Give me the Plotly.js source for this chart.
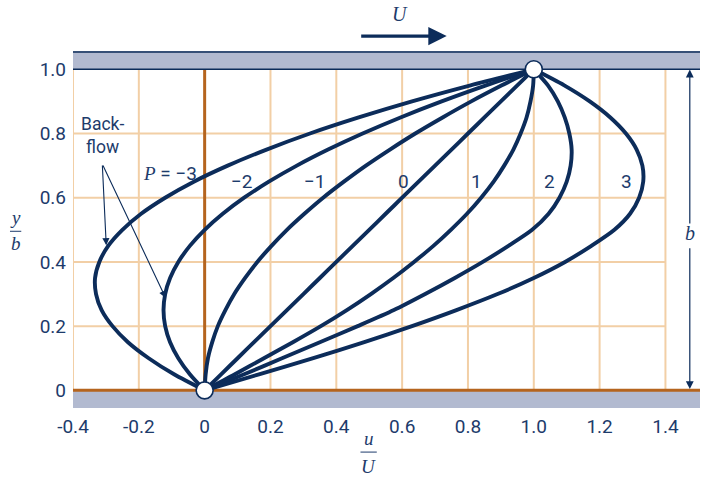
<!DOCTYPE html>
<html>
<head>
<meta charset="utf-8">
<script src="https://cdn.plot.ly/plotly-3.0.1.min.js"></script>
<style>html,body{margin:0;padding:0;background:#fff;}#chart{width:719px;height:490px;}</style>
</head>
<body>
<div id="chart"></div>
<script>
// ---- data ----
var yGrid = [0,0.05,0.1,0.15,0.2,0.25,0.3,0.35,0.4,0.45,0.5,0.55,0.6,0.65,0.7,0.75,0.8,0.85,0.9,0.95,1];
var uPm3 = [0,-0.093,-0.17,-0.233,-0.28,-0.313,-0.33,-0.333,-0.32,-0.293,-0.25,-0.193,-0.12,-0.033,0.07,0.188,0.32,0.468,0.63,0.808,1];
var uPm2 = [0,-0.045,-0.08,-0.105,-0.12,-0.125,-0.12,-0.105,-0.08,-0.045,0,0.055,0.12,0.195,0.28,0.375,0.48,0.595,0.72,0.855,1];
var uPm1 = [0,0.003,0.01,0.023,0.04,0.063,0.09,0.123,0.16,0.203,0.25,0.303,0.36,0.423,0.49,0.563,0.64,0.723,0.81,0.903,1];
var uP0  = [0,0.05,0.1,0.15,0.2,0.25,0.3,0.35,0.4,0.45,0.5,0.55,0.6,0.65,0.7,0.75,0.8,0.85,0.9,0.95,1];
var uP1  = [0,0.092,0.18,0.268,0.353,0.432,0.505,0.573,0.636,0.695,0.748,0.797,0.84,0.878,0.91,0.938,0.96,0.978,0.99,0.998,1];
var uP2  = [0,0.12,0.235,0.35,0.465,0.575,0.67,0.76,0.845,0.923,0.995,1.045,1.078,1.10,1.112,1.115,1.108,1.094,1.073,1.043,1];
var uP3  = [0,0.165,0.33,0.485,0.63,0.765,0.89,1.0,1.095,1.175,1.245,1.2925,1.32,1.3325,1.33,1.3125,1.28,1.2325,1.17,1.0925,1];
var pLabels = ["<span style=\"font-family:'Liberation Serif';font-style:italic\">P</span> = \u22123", "\u22122", "\u22121", "0", "1", "2", "3"];
var pLabelX = [-0.106, 0.112, 0.334, 0.603, 0.826, 1.049, 1.282];
var pLabelY = [0.677, 0.65, 0.65, 0.65, 0.65, 0.65, 0.65];
var wallPtsX = [0, 1];
var wallPtsY = [0, 1];
var xTicks = [-0.4,-0.2,0,0.2,0.4,0.6,0.8,1.0,1.2,1.4];
var xTickText = ["-0.4","-0.2","0","0.2","0.4","0.6","0.8","1.0","1.2","1.4"];
var yTicks = [0,0.2,0.4,0.6,0.8,1.0];
var yTickText = ["0","0.2","0.4","0.6","0.8","1.0"];

// ---- styling ----
var NAVY = '#0c2c5a';
var TXT = '#1d3b6b';
var GRID = '#f2cfa6';
var BROWN = '#b5641e';
var BAR = '#b2bad0';
var FONT = 'Roboto, "Liberation Sans", sans-serif';
var SERIF = '"Liberation Serif", "DejaVu Serif", serif';

var series = [uPm3, uPm2, uPm1, uP0, uP1, uP2, uP3];
var traces = series.map(function(u){
  return {x:u, y:yGrid, type:'scatter', mode:'lines',
          line:{color:NAVY, width:3.9, shape:'spline', smoothing:0.8},
          hoverinfo:'skip', cliponaxis:false};
});
traces.push({x:wallPtsX, y:wallPtsY, type:'scatter', mode:'markers',
  marker:{size:17, color:'#ffffff', line:{color:NAVY, width:1.6}},
  hoverinfo:'skip', cliponaxis:false});

var XR = [-0.4, 1.505];
var shapes = [];
shapes.push({type:'rect', xref:'x', yref:'y', x0:XR[0], x1:XR[1], y0:1.0, y1:1.057, fillcolor:BAR, line:{width:0}, layer:'below'});
shapes.push({type:'rect', xref:'x', yref:'y', x0:XR[0], x1:XR[1], y0:-0.055, y1:0, fillcolor:BAR, line:{width:0}, layer:'below'});
xTicks.forEach(function(v){
  if (v === 0) return;
  shapes.push({type:'line', xref:'x', yref:'y', x0:v, x1:v, y0:0, y1:1, line:{color:GRID, width:2}, layer:'below'});
});
yTicks.forEach(function(v){
  if (v === 0 || v === 1) return;
  shapes.push({type:'line', xref:'x', yref:'y', x0:-0.4, x1:1.4, y0:v, y1:v, line:{color:GRID, width:2}, layer:'below'});
});
shapes.push({type:'line', xref:'x', yref:'y', x0:0, x1:0, y0:0, y1:1, line:{color:BROWN, width:3}, layer:'below'});
shapes.push({type:'line', xref:'x', yref:'y', x0:XR[0], x1:XR[1], y0:0, y1:0, line:{color:BROWN, width:3}, layer:'below'});
shapes.push({type:'line', xref:'x', yref:'y', x0:XR[0], x1:XR[1], y0:1, y1:1, line:{color:NAVY, width:1.6}, layer:'below'});
shapes.push({type:'line', xref:'x', yref:'y', x0:XR[0], x1:XR[1], y0:1.054, y1:1.054, line:{color:NAVY, width:1.4}, layer:'below'});
// fraction bars for axis titles (paper coords)
shapes.push({type:'line', xref:'paper', yref:'paper', x0:-0.1005, x1:-0.0825, y0:0.495, y1:0.495, line:{color:TXT, width:1}});
shapes.push({type:'line', xref:'paper', yref:'paper', x0:0.4585, x1:0.4845, y0:-0.1235, y1:-0.1235, line:{color:TXT, width:1}});

function txt(x, y, ref, t, f){
  return {x:x, y:y, xref:ref, yref:ref, text:t, showarrow:false, font:f, xanchor:'center', yanchor:'middle'};
}
var ann = [];
for (var i = 0; i < pLabels.length; i++) {
  ann.push(txt(pLabelX[i], pLabelY[i], 'x', pLabels[i], {family:FONT, size:19, color:TXT}));
  ann[ann.length-1].yref = 'y';
}
ann.push(txt(-0.31, 0.793, 'x', 'Back-<br>flow', {family:FONT, size:17.5, color:TXT}));
ann[ann.length-1].yref = 'y';
// backflow arrows
ann.push({x:-0.299, y:0.452, ax:-0.311, ay:0.705, xref:'x', yref:'y', axref:'x', ayref:'y', text:'',
          showarrow:true, arrowhead:2, arrowsize:1.3, arrowwidth:1.1, arrowcolor:NAVY});
ann.push({x:-0.1185, y:0.288, ax:-0.311, ay:0.705, xref:'x', yref:'y', axref:'x', ayref:'y', text:'',
          showarrow:true, arrowhead:2, arrowsize:1.3, arrowwidth:1.1, arrowcolor:NAVY});
// U arrow (paper coords, above plot)
ann.push({x:0.596, y:1.0417, xref:'paper', yref:'paper', ax:-87, ay:0, axref:'pixel', ayref:'pixel', text:'',
          showarrow:true, arrowhead:2, arrowsize:1.15, arrowwidth:3.2, arrowcolor:NAVY});
ann.push({x:0.5215, y:1.103, xref:'paper', yref:'paper', text:'U', showarrow:false, xanchor:'center', yanchor:'middle',
          font:{family:SERIF, size:20, color:TXT, style:'italic'}});
// b arrows
ann.push({x:1.474, y:0.999, ax:1.474, ay:0.515, xref:'x', yref:'y', axref:'x', ayref:'y', text:'',
          showarrow:true, arrowhead:2, arrowsize:1.3, arrowwidth:1.2, arrowcolor:NAVY});
ann.push({x:1.474, y:0.004, ax:1.474, ay:0.447, xref:'x', yref:'y', axref:'x', ayref:'y', text:'',
          showarrow:true, arrowhead:2, arrowsize:1.3, arrowwidth:1.2, arrowcolor:NAVY});
ann.push({x:1.474, y:0.49, xref:'x', yref:'y', text:'b', showarrow:false, xanchor:'center', yanchor:'middle',
          font:{family:SERIF, size:20, color:TXT, style:'italic'}});
// axis title fractions
var serifI = {family:SERIF, size:19, color:TXT, style:'italic'};
ann.push(txt(-0.0915, 0.535, 'paper', 'y', serifI));
ann.push(txt(-0.0915, 0.460, 'paper', 'b', serifI));
ann.push(txt(0.4715, -0.085, 'paper', 'u', serifI));
ann.push(txt(0.4715, -0.163, 'paper', 'U', serifI));

var layout = {
  width:719, height:490,
  margin:{l:73, r:19, t:51, b:82},
  paper_bgcolor:'#ffffff', plot_bgcolor:'#ffffff',
  showlegend:false,
  font:{family:FONT, color:TXT},
  xaxis:{range:XR, tickvals:xTicks, ticktext:xTickText, showgrid:false, zeroline:false,
         showline:false, ticks:'', tickfont:{family:FONT, size:19, color:TXT}, ticklabelstandoff:5, fixedrange:true},
  yaxis:{range:[-0.055, 1.057], tickvals:yTicks, ticktext:yTickText, showgrid:false, zeroline:false,
         showline:false, ticks:'', tickfont:{family:FONT, size:19, color:TXT}, ticklabelstandoff:6, fixedrange:true},
  shapes:shapes,
  annotations:ann
};
Plotly.newPlot('chart', traces, layout, {displayModeBar:false, staticPlot:true});
</script>
</body>
</html>
